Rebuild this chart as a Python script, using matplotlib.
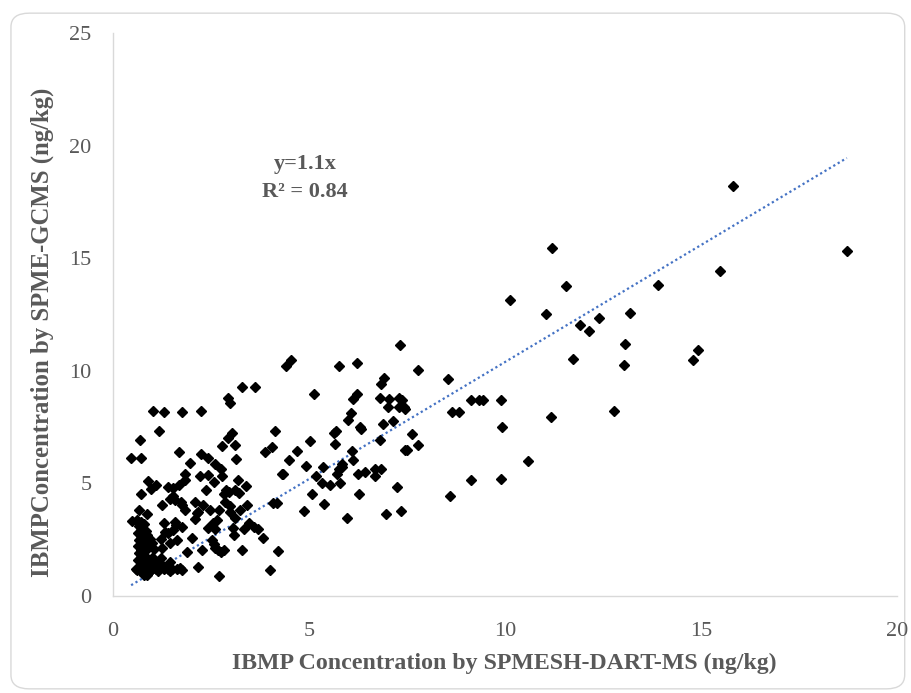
import matplotlib
matplotlib.use('Agg')
import matplotlib.pyplot as plt
from matplotlib.patches import FancyBboxPatch
import numpy as np

# IBMP concentration (ng/kg)
# x = SPMESH-DART-MS, y = SPME-GCMS
dart_high = [15.80, 18.71, 11.18, 11.55, 15.47, 10.11, 11.03, 13.90, 11.91, 12.13,
             12.39, 13.18, 13.05, 13.04, 11.72, 14.92, 14.78, 9.13, 9.34, 9.43,
             9.89, 9.92, 11.16, 12.78, 10.58, 9.13, 9.88, 8.54, 8.64, 8.81, 8.60]
gcms_high = [18.23, 15.34, 15.48, 13.75, 14.46, 13.13, 12.51, 13.80, 12.05, 11.77,
             12.34, 12.55, 11.19, 10.24, 10.54, 10.91, 10.50, 8.72, 8.72, 8.72,
             8.72, 7.51, 7.94, 8.22, 5.99, 5.17, 5.19, 9.65, 8.17, 8.17, 4.43]

dart_mid = [7.32, 4.53, 4.42, 5.76, 6.21, 7.77, 6.92, 6.83, 5.12, 6.22,
            6.12, 6.81, 7.04, 7.28, 7.36, 7.30, 7.42, 7.45, 7.00, 6.07,
            5.99, 6.88, 7.13, 6.30, 6.31, 4.14, 5.68, 5.63, 5.66, 5.03,
            6.81, 7.63, 7.77, 7.49, 7.44, 4.04, 4.68, 6.09, 4.48, 6.13,
            4.93, 5.36, 5.83, 5.83, 5.75, 4.33, 4.30, 5.18, 5.72, 6.25,
            6.43, 6.68, 6.83, 6.67, 5.32, 5.52, 5.78, 7.24, 5.06, 6.27,
            4.08, 4.19, 4.87, 5.38, 5.96, 6.97, 7.34, 4.21, 3.99]
gcms_mid = [11.13, 10.50, 10.23, 10.21, 10.36, 10.02, 9.68, 9.43, 8.99, 8.99,
            8.77, 8.81, 8.74, 8.79, 8.72, 8.39, 8.39, 8.29, 8.39, 8.13,
            7.80, 7.64, 7.77, 7.49, 7.40, 7.32, 7.32, 7.24, 6.77, 6.90,
            6.92, 7.18, 6.72, 6.50, 6.47, 6.64, 6.46, 6.44, 6.06, 6.06,
            5.76, 5.73, 5.88, 5.73, 5.66, 5.44, 5.40, 5.34, 5.41, 5.41,
            5.49, 5.63, 5.63, 5.34, 5.04, 4.91, 5.02, 4.83, 4.54, 4.52,
            4.14, 4.14, 3.76, 4.07, 3.47, 3.62, 3.77, 2.01, 1.14]

dart_low = [3.29, 3.63, 2.93, 2.97, 3.02, 2.92, 2.77, 3.11, 3.87, 2.23,
            2.41, 3.14, 2.61, 2.74, 2.21, 2.42, 2.78, 2.58, 3.18, 3.39,
            2.38, 2.89, 2.84, 2.95, 3.10, 3.20, 2.86, 2.10, 2.28, 2.48,
            2.69, 2.97, 2.97, 3.23, 3.42, 2.17, 3.11, 2.56, 2.65, 3.46,
            3.59, 2.42, 2.61, 3.06, 3.08, 3.33, 3.69, 3.83, 2.52, 2.57,
            2.61, 2.67, 2.82, 2.74, 2.27, 3.29, 2.17, 2.71, 2.23, 2.10,
            2.14, 2.01]
gcms_low = [9.28, 9.28, 8.79, 8.59, 7.26, 7.02, 6.67, 6.70, 6.40, 6.33,
            6.11, 6.08, 5.88, 5.66, 5.34, 5.37, 5.32, 5.07, 5.14, 4.89,
            4.70, 4.73, 4.52, 4.63, 4.70, 4.58, 4.18, 4.18, 4.04, 3.81,
            3.84, 3.99, 3.74, 3.84, 4.04, 3.71, 3.47, 3.25, 3.37, 3.25,
            3.05, 3.03, 2.96, 3.00, 2.71, 2.96, 2.97, 2.59, 2.48, 2.29,
            2.11, 2.04, 2.04, 1.94, 2.04, 2.04, 1.30, 0.89, 8.20, 3.40,
            3.67, 2.56]

dart_left = [1.02, 1.31, 1.76, 1.16, 0.69, 0.46, 0.72, 1.67, 1.95, 1.84,
             0.89, 0.96, 1.10, 0.72, 1.41, 1.54, 1.67, 1.84, 1.53, 1.46,
             1.59, 1.74, 1.76, 1.84, 1.25, 0.67, 0.86, 0.48, 0.61, 1.29,
             1.59, 1.61, 1.76, 1.33, 1.54, 1.41, 1.23, 1.88, 1.25, 1.46,
             1.63, 0.86, 1.03, 1.23, 0.82, 0.99, 1.07, 1.25, 1.46]
gcms_left = [8.22, 8.17, 8.17, 7.32, 6.92, 6.11, 6.15, 6.40, 5.93, 5.40,
             5.10, 4.75, 4.92, 4.55, 4.85, 4.78, 4.92, 5.14, 4.45, 4.33,
             4.26, 4.18, 4.04, 3.81, 4.04, 3.84, 3.64, 3.33, 3.37, 3.25,
             3.29, 3.15, 3.07, 2.85, 2.93, 2.81, 2.51, 1.96, 2.11, 2.34,
             2.48, 0.93, 1.67, 1.70, 1.67, 1.67, 1.52, 1.37, 1.52]

# dense column near x ~ 0.7 and the row along y ~ 1.2
dart_column = [0.62, 0.70, 0.66, 0.72, 0.64, 0.70, 0.66, 0.72, 0.64, 0.70,
               0.66, 0.72, 0.64, 0.70, 0.66, 0.62, 0.72, 0.78, 0.80, 0.84,
               0.82, 0.86, 0.80, 0.88, 0.84, 0.73, 0.80, 0.86, 0.95, 0.99,
               1.05]
gcms_column = [3.35, 3.30, 3.10, 2.95, 2.80, 2.65, 2.50, 2.35, 2.20, 2.05,
               1.90, 1.75, 1.60, 1.45, 1.30, 1.15, 1.10, 0.95, 3.20, 2.90,
               2.40, 2.10, 1.80, 1.50, 1.35, 3.07, 2.85, 2.70, 2.53, 2.34,
               2.10]
dart_row = [0.58, 0.75, 0.90, 1.00, 1.10, 1.20, 1.30, 1.40, 1.50, 1.62,
            1.70, 1.75, 0.95, 1.15, 1.45]
gcms_row = [1.22, 1.25, 1.20, 1.22, 1.18, 1.24, 1.20, 1.22, 1.18, 1.22,
            1.25, 1.15, 1.10, 1.12, 1.10]

trend_slope = 1.04  # drawn trendline, labelled y=1.1x

x_all = np.array(dart_high + dart_mid + dart_low + dart_left + dart_column + dart_row)
y_all = np.array(gcms_high + gcms_mid + gcms_low + gcms_left + gcms_column + gcms_row)

grey = '#595959'
serif = ['Liberation Serif', 'DejaVu Serif']

fig = plt.figure(figsize=(9.12, 6.93), dpi=100)
fig.patches.append(FancyBboxPatch((0.012, 0.006), 0.98, 0.975,
                                  boxstyle='round,pad=0,rounding_size=0.02',
                                  transform=fig.transFigure, facecolor='white',
                                  edgecolor='#d9d9d9', linewidth=1.0,
                                  zorder=-5))

ax = fig.add_axes([0.124, 0.14, 0.86, 0.812])
ax.set_facecolor('none')

ax.plot(x_all, y_all, linestyle='none', marker='D', markersize=4.9,
        color='black', zorder=3)

xt = np.array([x_all.min(), x_all.max()])
ax.plot(xt, trend_slope * xt, linestyle=(0, (1, 1.3)), color='#4472C4',
        linewidth=1.6, zorder=2)

ax.set_xlim(0, 20)
ax.set_ylim(0, 25)
ax.set_xticks([0, 5, 10, 15, 20])
ax.set_yticks([0, 5, 10, 15, 20, 25])
for s in ['top', 'right']:
    ax.spines[s].set_visible(False)
for s in ['left', 'bottom']:
    ax.spines[s].set_color('#d9d9d9')
    ax.spines[s].set_linewidth(1.0)
ax.tick_params(length=0, labelsize=16, labelcolor=grey)
ax.tick_params(axis='x', pad=18.5)
ax.tick_params(axis='y', pad=15.5)
for lab in ax.get_xticklabels() + ax.get_yticklabels():
    lab.set_family(serif)

ax.text(4.9, 18.56, 'y=1.1x\nR² = 0.84', ha='center', va='center',
        fontsize=16, fontweight='bold', color=grey, family=serif,
        linespacing=1.5)

fig.text(0.553, 0.043, 'IBMP Concentration by SPMESH-DART-MS (ng/kg)',
         ha='center', va='center', fontsize=17.2, fontweight='bold',
         color=grey, family=serif)
fig.text(0.046, 0.52, 'IBMPConcentration by SPME-GCMS (ng/kg)',
         ha='center', va='center', rotation=90, fontsize=17.8,
         fontweight='bold', color=grey, family=serif)

fig.savefig('out.png', dpi=100)
